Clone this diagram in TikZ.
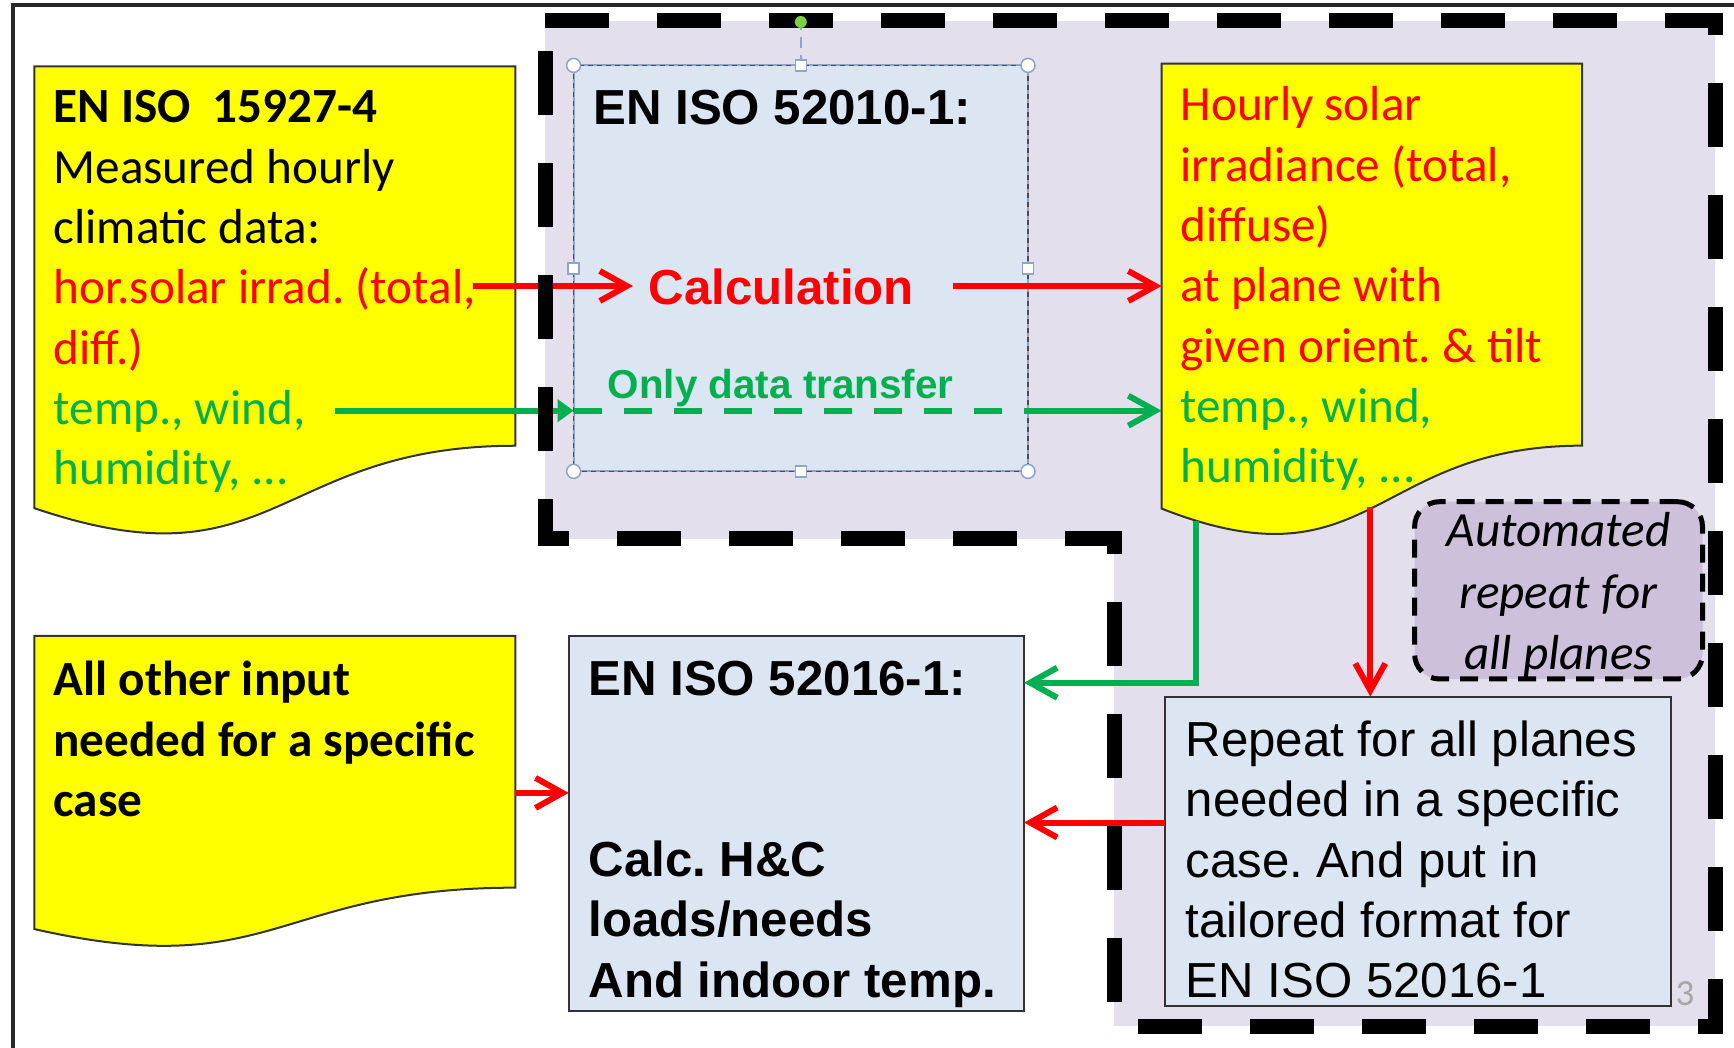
\documentclass[tikz,border=0pt]{standalone}
\usepackage{fontspec}
\setmainfont{Carlito}
\newfontfamily\arialfont{Liberation Sans}
\usetikzlibrary{calc,arrows.meta}
\frenchspacing

\definecolor{lav}{HTML}{E4DFEC}
\definecolor{lavdark}{HTML}{CCC0DA}
\definecolor{boxblue}{HTML}{DCE6F2}
\definecolor{pptgreen}{HTML}{00B050}
\definecolor{pptred}{HTML}{FF0000}
\definecolor{pptyellow}{HTML}{FFFF00}
\definecolor{handleblue}{HTML}{8EA4C8}
\definecolor{rotgreen}{HTML}{7CD13F}

% flow chart "document" outline on an empty node
\newcommand{\docwave}[1]{%
  \filldraw[docline] (#1.north west) -- (#1.north east)
    -- ($(#1.north east)!0.802!(#1.south east)$)
    .. controls ($(#1.north)!0.802!(#1.south)$) and ($(#1.north)!1.1075!(#1.south)$)
    .. ($(#1.north west)!0.934!(#1.south west)$) -- cycle;}

\begin{document}
\begin{tikzpicture}[x=0.1mm, y=-0.1mm,
    docbox/.style={inner sep=0, outer sep=0, anchor=north west},
    docline/.style={fill=pptyellow, draw=black!80, line width=0.2mm},
    bluebox/.style={fill=boxblue, draw=black!80, line width=0.2mm, inner sep=0, outer sep=0, anchor=north west},
    autobox/.style={fill=lavdark, draw=black, line width=0.5mm, dash pattern=on 1.8mm off 1.1mm, rounded corners=2.5mm, inner sep=0, outer sep=0, anchor=north west},
    cal/.style={anchor=base west, align=left, inner sep=0, font=\fontsize{14}{17.16}\selectfont},
    calb/.style={cal, font=\fontsize{14}{17.16}\selectfont\bfseries},
    ari/.style={cal, font=\arialfont\fontsize{14}{17.16}\selectfont},
    arib/.style={cal, font=\arialfont\fontsize{14}{17.16}\selectfont\bfseries},
    redline/.style={draw=pptred, line width=0.6mm, -{Straight Barb[length=2.7mm,width=3mm]}},
    greenline/.style={draw=pptgreen, line width=0.6mm, -{Straight Barb[length=2.7mm,width=3mm]}},
    zoneline/.style={draw=black, line width=1.5mm, dash pattern=on 6.4mm off 4.8mm},
    handle/.style={draw=handleblue, line width=0.15mm, fill=white}]

    \useasboundingbox (0,0) rectangle (1734,1048);
    \draw[line width=0.35mm, black!85] (1734,5) -| (13,1048);

    % shaded zone of EN ISO 52010-1
    \fill[lav] (545,21) -- (1715,21) -- (1715,1026) -- (1114,1026) -- (1114,539) -- (545,539) -- cycle;

    % documents
    \node[docbox, minimum width=48.1mm, minimum height=47.3mm] (src) at (34.4,66.4) {};
    \node[docbox, minimum width=42.05mm, minimum height=47.64mm] (irr) at (1161.5,63.6) {};
    \node[docbox, minimum width=48.1mm, minimum height=31.38mm] (other) at (34.4,636) {};
    \docwave{src}
    \docwave{irr}
    \docwave{other}

    % boxes
    \node[bluebox, draw=handleblue, minimum width=45.44mm, minimum height=40.6mm] (calc) at (573.6,65.4) {};
    \draw[black!70, line width=0.15mm, dash pattern=on 0.5mm off 0.4mm] (calc.north west) rectangle (calc.south east);
    \node[bluebox, minimum width=45.53mm, minimum height=37.54mm] (heat) at (568.7,635.6) {};
    \node[bluebox, minimum width=50.67mm, minimum height=30.94mm] (rep) at (1164.7,696.6) {};
    \node[autobox, minimum width=28.79mm, minimum height=17.73mm] (auto) at (1414.6,501.7) {};

    % texts (base = last line)
    \node[cal] (srcT) at (52.8,484.8) {\textbf{EN ISO\ \ 15927-4}\\Measured hourly\\climatic data:\\
        \textcolor{pptred}{hor.solar irrad. (total,}\\\textcolor{pptred}{diff.)}\\
        \textcolor{pptgreen}{temp., wind,}\\\textcolor{pptgreen}{humidity, ...}};
    \node[cal] (irrT) at (1179.7,482.8) {\textcolor{pptred}{Hourly solar}\\\textcolor{pptred}{irradiance (total,}\\
        \textcolor{pptred}{diffuse)}\\\textcolor{pptred}{at plane with}\\\textcolor{pptred}{given orient. \& tilt}\\
        \textcolor{pptgreen}{temp., wind,}\\\textcolor{pptgreen}{humidity, ...}};
    \node[calb] (otherT) at (52.8,816.6) {All other input\\needed for a specific\\case};
    \node[arib] (calcT) at (592.7,124.6) {EN ISO 52010-1:};
    \node[arib, text=pptred] (calcL) at (648,305) {Calculation};
    \node[cal, font=\arialfont\fontsize{11.5}{14}\selectfont\bfseries, text=pptgreen] (only) at (607,399) {Only data transfer};
    \node[arib] (heatT) at (587.8,997.1) {EN ISO 52016-1:\\[34.3pt]Calc. H\&C\\loads/needs\\And indoor temp.};
    \node[ari] (repT) at (1185,997.8) {Repeat for all planes\\needed in a specific\\case. And put in\\tailored format for\\EN ISO 52016-1};
    \node[anchor=base, align=center, inner sep=0, font=\fontsize{14}{17.5}\selectfont\itshape] (autoT) at (1558.5,670) {Automated\\repeat for\\all planes};
    \node[anchor=base, inner sep=0, font=\fontsize{10.5}{12}\selectfont, text=black!35] (pg) at (1685,1005) {3};

    % connectors
    \coordinate (srcR) at (472.6,286);
    \coordinate (srcG) at (335,410.7);
    \coordinate (irrG) at (1196,521);
    \coordinate (irrR) at (1370.3,507);
    \draw[redline, shorten >=1.5mm] (srcR) -- (srcR -| calcL.west);
    \draw[redline, shorten <=3.8mm] (srcR -| calcL.east) -- (srcR -| irr.west);
    \draw[greenline, -{Triangle[length=1.6mm,width=2.2mm]}] (srcG) -- (srcG -| calc.west);
    \draw[pptgreen, line width=0.6mm, dash pattern=on 2.8mm off 2.2mm] (srcG -| calc.west) -- (srcG -| calc.east);
    \draw[greenline] (srcG -| calc.east) -- (srcG -| irr.west);
    \draw[greenline] (irrG) |- ($(heat.north east)!0.1255!(heat.south east)$);
    \draw[redline] (irrR) -- (irrR |- rep.north);
    \draw[redline] ($(rep.north west)!0.407!(rep.south west)$) coordinate (repR) -- (repR -| heat.east);
    \draw[redline] (other.east) -- (other.east -| heat.west);

    % dashed border of the zone
    \draw[zoneline] (545,21) -- (1715,21) -- (1715,1026) -- (1114,1026) -- (1114,539) -- (545,539) -- cycle;

    % selection handles of the 52010 box
    \coordinate (rot) at (calc.north |- 0,22);
    \draw[handleblue, line width=0.15mm, densely dashed] (calc.north) -- (rot);
    \fill[rotgreen] (rot) circle (6);
    \foreach \a in {north west, north east, south west, south east}
        \draw[handle] (calc.\a) circle (7);
    \foreach \a in {north, south, west, east}
        \draw[handle] ($(calc.\a)+(-5.5,-5.5)$) rectangle ++(11,11);
\end{tikzpicture}
\end{document}
